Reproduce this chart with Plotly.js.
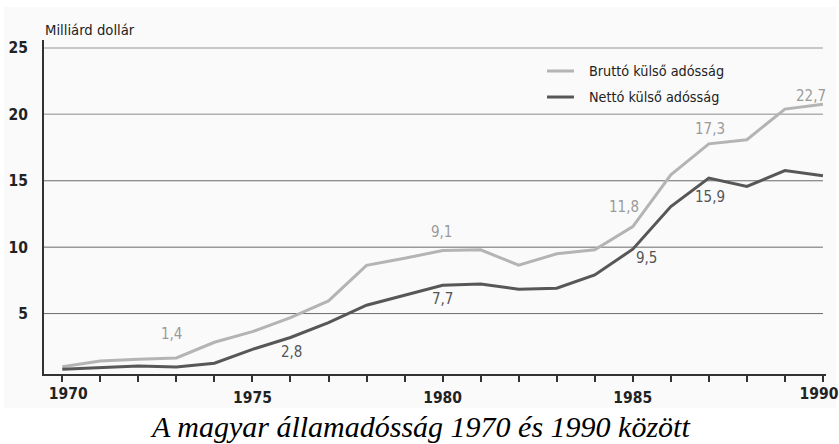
<!DOCTYPE html>
<html>
<head>
<meta charset="utf-8">
<script src="https://cdn.plot.ly/plotly-3.0.1.min.js"></script>
<style>html,body{margin:0;padding:0;background:#fff;}#chart{width:839px;height:444px;}</style>
</head>
<body>
<div id="chart"></div>
<script>
// Data
var years = [1970,1971,1972,1973,1974,1975,1976,1977,1978,1979,1980,1981,1982,1983,1984,1985,1986,1987,1988,1989,1990];
var grossDebt = [1.0,1.43,1.56,1.66,2.84,3.64,4.7,5.95,8.63,9.16,9.75,9.8,8.64,9.5,9.8,11.55,15.45,17.78,18.09,20.4,20.77];
var netDebt = [0.8,0.94,1.05,0.98,1.26,2.31,3.2,4.32,5.63,6.38,7.13,7.23,6.83,6.91,7.91,9.85,13.06,15.2,14.57,15.77,15.37];
var seriesNames = ["Bruttó külső adósság","Nettó külső adósság"];
var xTickLabels = ["","","","","","1975","","","","","1980","","","","","1985","","","","",""];
var xFirstLabel = ["1970"];
var xLastLabel = ["1990"];
var yTickValues = [5,10,15,20,25];
var yTickLabels = ["5","10","15","20","25"];
// value labels: [x, y, text, series]
var labelX = [1972.86,1976.04,1979.96,1980.01,1984.77,1985.37,1987.03,1987.03,1989.68];
var labelY = [3.47,2.11,11.15,6.1,13.04,9.19,13.79,18.91,21.4];
var labelText = ["1,4","2,8","9,1","7,7","11,8","9,5","15,9","17,3","22,7"];
var labelSeries = [0,1,0,1,0,1,1,0,0];

var FONT = '"DejaVu Sans Condensed","Liberation Sans Narrow",sans-serif';
var grossColor = '#b4b4b4', netColor = '#575757';
var labelColors = ['#9a9a9a', '#555555'];

var traces = [
  {x: years, y: grossDebt, name: seriesNames[0], type: 'scatter', mode: 'lines',
   line: {color: grossColor, width: 3}, hoverinfo: 'x+y'},
  {x: years, y: netDebt, name: seriesNames[1], type: 'scatter', mode: 'lines',
   line: {color: netColor, width: 3}, hoverinfo: 'x+y'},
  // empty helper traces so the edge-label axes are drawn (no marks)
  {x: [], y: [], xaxis: 'x2', yaxis: 'y', type: 'scatter', mode: 'lines', showlegend: false, hoverinfo: 'skip'},
  {x: [], y: [], xaxis: 'x3', yaxis: 'y', type: 'scatter', mode: 'lines', showlegend: false, hoverinfo: 'skip'}
];

var shapes = [
  {type: 'rect', xref: 'paper', yref: 'paper', x0: -0.0512, x1: 1.0128, y0: -0.1018, y1: 1.0988,
   fillcolor: '#fafafa', line: {width: 0}, layer: 'below'}
];
var gridColors = {5: '#6a6a6a', 10: '#6a6a6a', 15: '#6a6a6a', 20: '#b0b0b0', 25: '#c8c8c8'};
var gridWidths = {5: 1, 10: 1, 15: 1, 20: 1.5, 25: 2};
yTickValues.forEach(function (v) {
  shapes.push({type: 'line', xref: 'x', yref: 'y', x0: 1969.52, x1: years[years.length - 1], y0: v, y1: v,
    line: {color: gridColors[v], width: gridWidths[v]}, layer: 'below'});
});
// legend lines
shapes.push({type: 'line', xref: 'paper', yref: 'paper', x0: 0.6432, x1: 0.6777, y0: 0.9072, y1: 0.9072,
  line: {color: grossColor, width: 3}});
shapes.push({type: 'line', xref: 'paper', yref: 'paper', x0: 0.6432, x1: 0.6777, y0: 0.8293, y1: 0.8293,
  line: {color: netColor, width: 3}});

var annotations = [];
for (var i = 0; i < labelText.length; i++) {
  annotations.push({x: labelX[i], y: labelY[i], xref: 'x', yref: 'y', text: labelText[i], showarrow: false,
    xanchor: 'center', yanchor: 'middle', font: {family: FONT, size: 15, color: labelColors[labelSeries[i]]}});
}
annotations.push({x: 0.6944, y: 0.9072, xref: 'paper', yref: 'paper', text: seriesNames[0], showarrow: false,
  xanchor: 'left', yanchor: 'middle', font: {family: FONT, size: 14.3, color: '#222'}});
annotations.push({x: 0.6944, y: 0.8293, xref: 'paper', yref: 'paper', text: seriesNames[1], showarrow: false,
  xanchor: 'left', yanchor: 'middle', font: {family: FONT, size: 14.3, color: '#222'}});
annotations.push({x: -0.0013, y: 1.03, xref: 'paper', yref: 'paper', text: 'Milliárd dollár', showarrow: false,
  xanchor: 'left', yanchor: 'middle', font: {family: FONT, size: 14.7, color: '#222'}});
annotations.push({x: 0.4808, y: -0.1557, xref: 'paper', yref: 'paper',
  text: '<i>A magyar államadósság 1970 és 1990 között</i>', showarrow: false,
  xanchor: 'center', yanchor: 'middle', font: {family: '"Liberation Serif","Times New Roman",serif', size: 30, color: '#000'}});

var xRange = [1969.52, 1990.08];
var tickFont = {family: FONT, size: 15.5, color: '#222', weight: 'bold'};
function edgeAxis(vals, text, shift) {
  return {
    overlaying: 'x', anchor: 'y', side: 'bottom', range: xRange,
    tickmode: 'array', tickvals: vals, ticktext: text, ticklabelshift: shift,
    showgrid: false, zeroline: false, showline: false, ticks: '',
    tickfont: tickFont, ticklabelstandoff: 8, ticklabeloverflow: 'allow'
  };
}

var layout = {
  width: 839, height: 444,
  margin: {l: 44, r: 13, t: 40, b: 70},
  paper_bgcolor: '#ffffff',
  plot_bgcolor: 'rgba(0,0,0,0)',
  showlegend: false,
  xaxis: {
    range: xRange, tickmode: 'array', tickvals: years, ticktext: xTickLabels,
    showgrid: false, zeroline: false, showline: true, linecolor: '#333', linewidth: 2,
    ticks: 'outside', ticklen: 6, tickwidth: 2, tickcolor: '#333',
    tickfont: tickFont, ticklabelstandoff: 2, ticklabeloverflow: 'allow'
  },
  xaxis2: edgeAxis([years[0]], xFirstLabel, 6),
  xaxis3: edgeAxis([years[years.length - 1]], xLastLabel, -4),
  yaxis: {
    range: [0.45, 25.6], tickmode: 'array', tickvals: yTickValues, ticktext: yTickLabels,
    showgrid: false, zeroline: false, showline: true, linecolor: '#333', linewidth: 2,
    ticks: '', tickfont: tickFont, ticklabelstandoff: 11
  },
  shapes: shapes,
  annotations: annotations
};

Plotly.newPlot('chart', traces, layout, {displayModeBar: false, staticPlot: true});
</script>
</body>
</html>
